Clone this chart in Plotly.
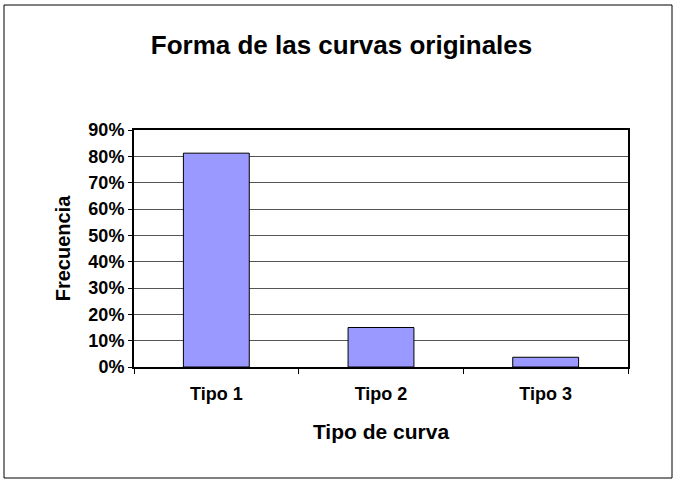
import plotly.graph_objects as go

categories = ["Tipo 1", "Tipo 2", "Tipo 3"]
frecuencia = [0.812, 0.150, 0.037]
y_ticks = [0, 0.1, 0.2, 0.3, 0.4, 0.5, 0.6, 0.7, 0.8, 0.9]
y_tick_labels = ["0%", "10%", "20%", "30%", "40%", "50%", "60%", "70%", "80%", "90%"]

fig = go.Figure(go.Bar(
    x=categories, y=frecuencia,
    marker=dict(color="#9999FF", line=dict(color="black", width=1)),
))

font = "Liberation Sans, Arial, sans-serif"
W, H = 678, 485
ml, mr, mt, mb = 134, 50, 130, 118
pw, ph = W - ml - mr, H - mt - mb

fig.update_layout(
    width=W, height=H,
    margin=dict(l=ml, r=mr, t=mt, b=mb),
    paper_bgcolor="white", plot_bgcolor="white",
    bargap=0.6, showlegend=False,
    font=dict(family=font, color="black"),
    title=dict(text="<b>Forma de las curvas originales</b>", x=341.5 / W, xanchor="center",
               y=1 - 45 / H, yanchor="middle", font=dict(size=26, family=font)),
    shapes=[dict(type="rect", xref="paper", yref="paper",
                 x0=(4 - ml) / pw, x1=(672 - ml) / pw,
                 y0=(H - mb - 478) / ph, y1=(H - mb - 5) / ph,
                 line=dict(color="black", width=1))],
)
fig.update_xaxes(
    showline=True, mirror=True, linecolor="black", linewidth=2,
    ticks="outside", tickson="boundaries", ticklen=5, tickcolor="black",
    showgrid=False, ticklabelstandoff=9,
    tickfont=dict(size=18, family=font),
    tickvals=categories, ticktext=["<b>%s</b>" % c for c in categories],
    title=dict(text="<b>Tipo de curva</b>", font=dict(size=21, family=font), standoff=22),
)
fig.update_yaxes(
    range=[0, 0.9], tickvals=y_ticks, ticktext=["<b>%s</b>" % t for t in y_tick_labels],
    showline=True, mirror=True, linecolor="black", linewidth=2,
    ticks="outside", ticklen=4, tickcolor="black",
    showgrid=True, gridcolor="#555555", gridwidth=1, zeroline=False,
    tickfont=dict(size=18, family=font),
    title=dict(text="<b>Frecuencia</b>", font=dict(size=20, family=font), standoff=12),
)

fig.write_html("out.html", config={"displayModeBar": False},
               post_script="document.body.style.margin='0';document.body.style.padding='0';")
